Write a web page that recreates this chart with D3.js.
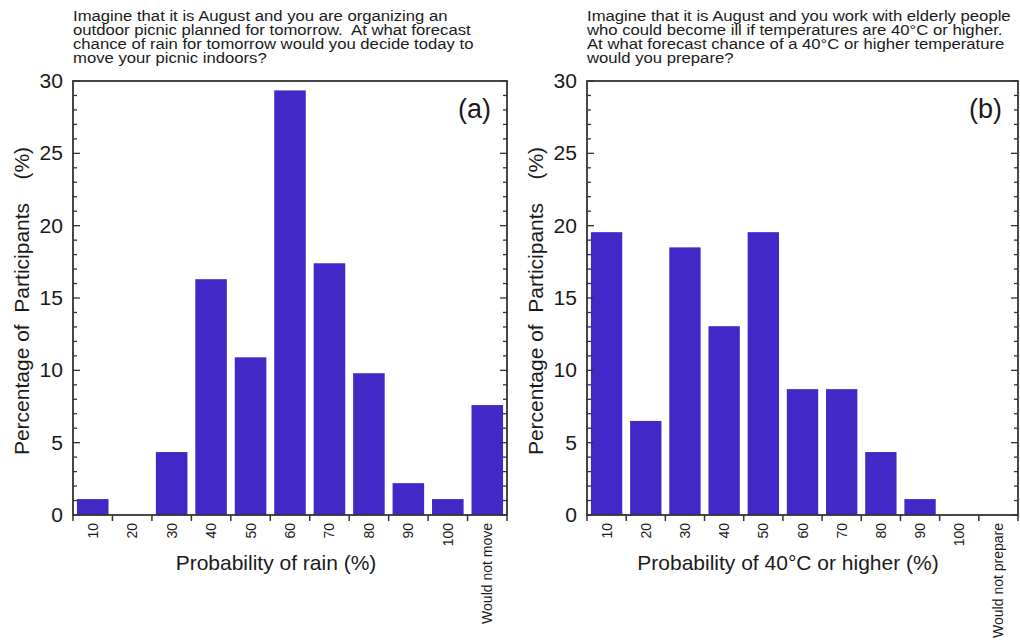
<!DOCTYPE html>
<html>
<head>
<meta charset="utf-8">
<script src="https://cdn.jsdelivr.net/npm/d3@7"></script>
<style>
  body { margin: 0; background: #fff; }
  text { font-family: "Liberation Sans", Arial, Helvetica, sans-serif; fill: #1a1a1a; white-space: pre; }
</style>
</head>
<body>
<div id="chart"></div>
<script>
// data (percent of participants)
var categoriesA = ["10", "20", "30", "40", "50", "60", "70", "80", "90", "100", "Would not move"];
var valuesA = [1.1, 0, 4.35, 16.3, 10.9, 29.35, 17.4, 9.8, 2.2, 1.1, 7.6];

var categoriesB = ["10", "20", "30", "40", "50", "60", "70", "80", "90", "100", "Would not prepare"];
var valuesB = [19.55, 6.5, 18.5, 13.05, 19.55, 8.7, 8.7, 4.35, 1.1, 0, 0];

var yTicks = [0, 5, 10, 15, 20, 25, 30];

var titleA = ["Imagine that it is August and you are organizing an",
  "outdoor picnic planned for tomorrow.  At what forecast",
  "chance of rain for tomorrow would you decide today to",
  "move your picnic indoors?"];
var titleB = ["Imagine that it is August and you work with elderly people",
  "who could become ill if temperatures are 40\u00B0C or higher.",
  "At what forecast chance of a 40\u00B0C or higher temperature",
  "would you prepare?"];

var svgWidth = 1020;
var svgHeight = 643;
var barColor = "#4328c8";
var axisColor = "#333";

var svg = d3.select("#chart")
  .append("svg")
  .attr("width", svgWidth)
  .attr("height", svgHeight);

function drawPanel(opts) {
  var left = opts.left, right = opts.right, top = 81, bottom = 515;

  var x = d3.scaleBand()
    .domain(opts.cats)
    .range([left, right])
    .paddingInner(0.2)
    .paddingOuter(0.1);

  var y = d3.scaleLinear()
    .domain([0, 30])
    .range([bottom, top]);

  var g = svg.append("g");

  // bars
  g.selectAll("rect.bar")
    .data(opts.vals)
    .enter()
    .append("rect")
    .attr("class", "bar")
    .attr("x", (d, i) => x(opts.cats[i]))
    .attr("width", x.bandwidth())
    .attr("y", d => y(d))
    .attr("height", d => bottom - y(d))
    .attr("fill", barColor);

  // minor + major ticks on left and right (inside)
  var minor = d3.range(0, 31);
  g.selectAll("line.tl")
    .data(minor)
    .enter()
    .append("line")
    .attr("x1", left)
    .attr("x2", d => left + (d % 5 === 0 ? 7 : 4))
    .attr("y1", d => y(d))
    .attr("y2", d => y(d))
    .attr("stroke", axisColor)
    .attr("stroke-width", 1.3);
  g.selectAll("line.tr")
    .data(minor)
    .enter()
    .append("line")
    .attr("x1", right)
    .attr("x2", d => right - (d % 5 === 0 ? 7 : 4))
    .attr("y1", d => y(d))
    .attr("y2", d => y(d))
    .attr("stroke", axisColor)
    .attr("stroke-width", 1.3);

  // y tick labels
  g.selectAll("text.yl")
    .data(yTicks)
    .enter()
    .append("text")
    .attr("transform", d => `translate(${left - 10}, ${y(d) + 7}) scale(1.08, 1)`)
    .attr("text-anchor", "end")
    .style("font-size", "19.5px")
    .text(d => d);

  // bottom ticks at the category boundaries
  var step = x.step();
  var start = x(opts.cats[0]) - x.step() * x.paddingOuter();
  var bounds = d3.range(opts.cats.length + 1).map(i => start + i * step);
  g.selectAll("line.tb")
    .data(bounds)
    .enter()
    .append("line")
    .attr("x1", d => d)
    .attr("x2", d => d)
    .attr("y1", bottom)
    .attr("y2", bottom + 6)
    .attr("stroke", axisColor)
    .attr("stroke-width", 1.5);

  // rotated category labels
  g.selectAll("text.xl")
    .data(opts.cats)
    .enter()
    .append("text")
    .attr("transform", d => `translate(${x(d) + x.bandwidth() / 2 + 5}, 523) rotate(-90)`)
    .attr("text-anchor", "end")
    .style("font-size", "14px")
    .text(d => d);

  // frame
  g.append("rect")
    .attr("x", left)
    .attr("y", top)
    .attr("width", right - left)
    .attr("height", bottom - top)
    .attr("fill", "none")
    .attr("stroke", axisColor)
    .attr("stroke-width", 1.8);

  // panel letter
  g.append("text")
    .attr("x", right - 16)
    .attr("y", 118)
    .attr("text-anchor", "end")
    .style("font-size", "27px")
    .text(opts.letter);

  // question (the original lettering is a bit wider than Liberation Sans)
  g.append("text")
    .attr("transform", `translate(${left}, 21) scale(1.175, 1)`)
    .style("font-size", "14.2px")
    .selectAll("tspan")
    .data(opts.title)
    .enter()
    .append("tspan")
    .attr("x", 0)
    .attr("dy", (d, i) => i === 0 ? 0 : 14)
    .text(d => d);

  // axis titles
  g.append("text")
    .attr("x", opts.xTitleX)
    .attr("y", 570)
    .attr("text-anchor", "middle")
    .style("font-size", "21px")
    .text(opts.xTitle);

  g.append("text")
    .attr("transform", `translate(${left - 44}, 301) rotate(-90)`)
    .attr("text-anchor", "middle")
    .style("font-size", "21px")
    .text("Percentage of  Participants    (%)");
}

drawPanel({
  left: 73, right: 507, cats: categoriesA, vals: valuesA, letter: "(a)",
  title: titleA, xTitle: "Probability of rain (%)", xTitleX: 276
});

drawPanel({
  left: 587, right: 1018, cats: categoriesB, vals: valuesB, letter: "(b)",
  title: titleB, xTitle: "Probability of 40\u00B0C or higher (%)", xTitleX: 788
});
</script>
</body>
</html>
